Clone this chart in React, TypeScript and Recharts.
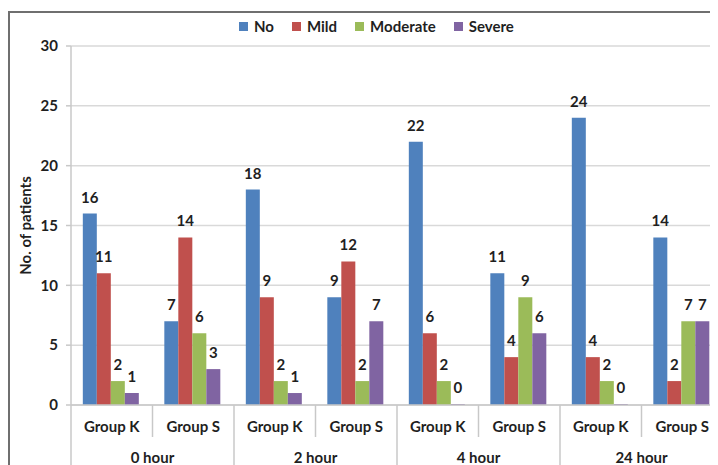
import { BarChart, Bar, XAxis, YAxis, CartesianGrid, Legend, LabelList } from 'recharts'

const groups = ['Group K', 'Group S', 'Group K', 'Group S', 'Group K', 'Group S', 'Group K', 'Group S']
const hours = ['0 hour', '0 hour', '2 hour', '2 hour', '4 hour', '4 hour', '24 hour', '24 hour']

const noPain = [16, 7, 18, 9, 22, 11, 24, 14]
const mild = [11, 14, 9, 12, 6, 4, 4, 2]
const moderate = [2, 6, 2, 2, 2, 9, 2, 7]
const severe = [1, 3, 1, 7, 0, 6, 0, 7]

const yTicks = [0, 5, 10, 15, 20, 25, 30]

const series = [
  { key: 'No', values: noPain, color: '#4F81BD' },
  { key: 'Mild', values: mild, color: '#C0504D' },
  { key: 'Moderate', values: moderate, color: '#9BBB59' },
  { key: 'Severe', values: severe, color: '#8064A2' },
]

const data = groups.map((g, i) => {
  const row: Record<string, string | number> = { id: i, group: g, hour: hours[i] }
  series.forEach((s) => {
    row[s.key] = s.values[i]
  })
  return row
})

const FONT = 'Lato, "Open Sans", sans-serif'
const TEXT = '#1f1f1f'
const LINE = '#c8c8c8'

const CHART_W = 716
const CHART_H = 452
const MARGIN = { top: 33, right: 3, bottom: 0, left: 0 }
const Y_W = 61
const BAND = (CHART_W - MARGIN.left - MARGIN.right - Y_W) / groups.length

// two-level category axis: group name per bar cluster, hour name per pair
function GroupTick(props: any) {
  const { x, y, payload } = props
  const i = payload.index as number
  const half = payload.offset || BAND / 2
  const left = x - half
  const evenIdx = i % 2 === 0
  return (
    <g>
      <line x1={left} y1={y} x2={left} y2={evenIdx ? y + 80 : y + 32} stroke={LINE} strokeWidth={1.5} />
      {i === groups.length - 1 && (
        <line x1={x + half} y1={y} x2={x + half} y2={y + 80} stroke={LINE} strokeWidth={1.5} />
      )}
      <text x={x} y={y + 27} textAnchor="middle" fontFamily={FONT} fontWeight={700} fontSize={15} fill={TEXT}>
        {groups[i]}
      </text>
      {evenIdx && (
        <text x={x + half} y={y + 58} textAnchor="middle" fontFamily={FONT} fontWeight={700} fontSize={15} fill={TEXT}>
          {hours[i]}
        </text>
      )}
    </g>
  )
}

function LegendRow() {
  return (
    <div style={{ display: 'flex', gap: 18, fontFamily: FONT, fontWeight: 700, fontSize: 15, color: TEXT }}>
      {series.map((s) => (
        <span key={s.key} style={{ display: 'flex', alignItems: 'center' }}>
          <span style={{ width: 9, height: 9, background: s.color, marginRight: 6 }} />
          {s.key}
        </span>
      ))}
    </div>
  )
}

export default function App() {
  return (
    <div style={{ paddingTop: 3 }}>
      <div
        style={{
          width: 708,
          height: 452,
          borderTop: '2px solid #6f6f6f',
          borderLeft: '2px solid #6f6f6f',
          overflow: 'hidden',
          background: '#fff',
        }}
      >
        <BarChart
          width={CHART_W}
          height={CHART_H}
          data={data}
          margin={MARGIN}
          barCategoryGap="14.5%"
          barGap={0}
        >
          <CartesianGrid vertical={false} stroke="#d9d9d9" strokeWidth={1.5} />
          <XAxis
            dataKey="id"
            type="category"
            height={60}
            tickSize={0}
            tickMargin={0}
            tickLine={false}
            axisLine={{ stroke: LINE, strokeWidth: 1.5 }}
            tick={<GroupTick />}
            interval={0}
          />
          <YAxis
            width={Y_W}
            domain={[0, 30]}
            ticks={yTicks}
            interval={0}
            tickSize={5}
            tickMargin={8}
            axisLine={{ stroke: LINE, strokeWidth: 1.5 }}
            tickLine={{ stroke: LINE, strokeWidth: 1.5 }}
            tick={{ fontFamily: FONT, fontWeight: 700, fontSize: 15, fill: TEXT }}
            label={{
              value: 'No. of patients',
              angle: -90,
              position: 'insideLeft',
              offset: 16,
              style: { fontFamily: FONT, fontWeight: 700, fontSize: 15, fill: TEXT, textAnchor: 'middle' },
            }}
          />
          <Legend
            layout="horizontal"
            verticalAlign="middle"
            align="center"
            content={<LegendRow />}
            wrapperStyle={{ position: 'absolute', top: 4, left: 229, width: 'auto' }}
          />
          {series.map((s) => (
            <Bar key={s.key} dataKey={s.key} fill={s.color} minPointSize={1} isAnimationActive={false}>
              <LabelList
                dataKey={s.key}
                position="top"
                offset={11}
                style={{ fontFamily: FONT, fontWeight: 700, fontSize: 15, fill: TEXT }}
              />
            </Bar>
          ))}
        </BarChart>
      </div>
    </div>
  )
}
